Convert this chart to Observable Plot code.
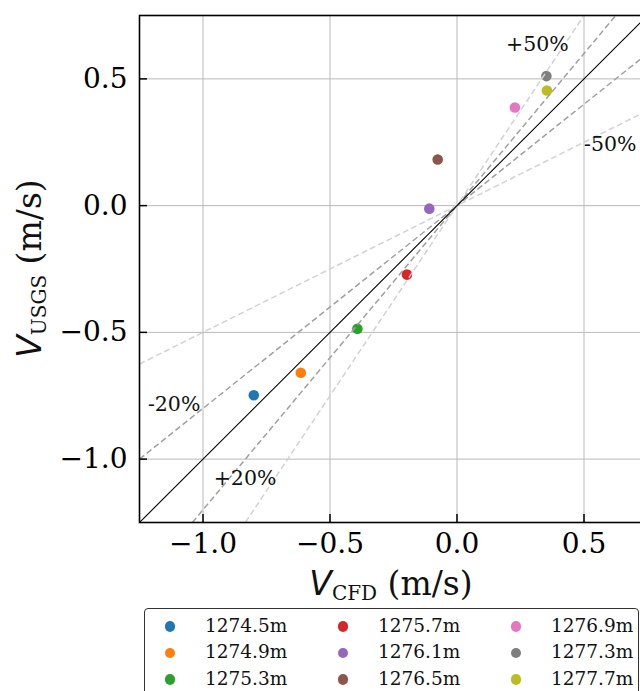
<!DOCTYPE html>
<html><head><meta charset="utf-8">
<script src="https://cdn.jsdelivr.net/npm/d3@7"></script>
<script src="https://cdn.jsdelivr.net/npm/@observablehq/plot@0.6"></script>
<style>
html,body{margin:0;padding:0;background:#fff;overflow:hidden;width:640px;height:691px}
#wrap{position:relative;width:640px;height:691px;overflow:hidden}
#wrap svg{display:block;max-width:none !important;width:647px !important;height:605px !important}
#legend{position:absolute;left:144px;top:608px;width:495px;height:110px;box-sizing:border-box;border:1.5px solid #333;border-radius:4px;background:#fff;font-family:"DejaVu Serif";font-size:18.5px;color:#111}
.dot{position:absolute;width:10.6px;height:10.6px;border-radius:50%}
.lab{position:absolute;line-height:20px;white-space:nowrap}
</style></head><body><div id="wrap"></div>
<script>
// ---- data ----
const depths = ["1274.5m","1274.9m","1275.3m","1275.7m","1276.1m","1276.5m","1276.9m","1277.3m","1277.7m"];
const vCFD  = [-0.800,-0.615,-0.392,-0.197,-0.109,-0.076,0.228,0.352,0.354];
const vUSGS = [-0.748,-0.659,-0.486,-0.272,-0.012,0.182,0.387,0.511,0.454];
const colors = ["#1f77b4","#ff7f0e","#2ca02c","#d62728","#9467bd","#8c564b","#e377c2","#7f7f7f","#bcbd22"];
const refSlopes = [1.2, 0.8, 1.5, 0.5];
const refLabels = ["+20%","-20%","+50%","-50%"];
const refLabelX = [-0.958,-1.217,0.193,0.500];
const refLabelY = [-1.100,-0.811,0.611,0.214];
const refColors = ["#a0a0a0","#a0a0a0","#d2d2d2","#d2d2d2"];
const ticks = [-1.0,-0.5,0.0,0.5];
const domain = [-1.25, 0.75];

// ---- derived tables ----
const points = depths.map((d,i)=>({depth:d, x:vCFD[i], y:vUSGS[i], color:colors[i]}));
function seg(k){
  const x1 = Math.max(domain[0], domain[0]/k), x2 = Math.min(domain[1], domain[1]/k);
  return {x1, y1:k*x1, x2, y2:k*x2};
}
const refs = refSlopes.map((k,i)=>({...seg(k), color:refColors[i]}));
const ident = [seg(1)];
const annots = refLabels.map((t,i)=>({text:t, x:refLabelX[i], y:refLabelY[i]}));
const fmt = d3.format(".1f");

const chart = Plot.plot({
  width: 647, height: 605,
  marginLeft: 139, marginRight: 0, marginTop: 15, marginBottom: 83,
  style: {fontFamily: "DejaVu Serif", background: "white", color: "black", overflow: "visible", maxWidth: "none"},
  x: {domain, label: null},
  y: {domain, label: null},
  marks: [
    Plot.gridX(ticks, {stroke: "#b9b9b9", strokeOpacity: 1, strokeWidth: 1}),
    Plot.gridY(ticks, {stroke: "#b9b9b9", strokeOpacity: 1, strokeWidth: 1}),
    Plot.dot(points, {x: "x", y: "y", r: 5.3, fill: "color"}),
    Plot.link(refs, {x1: "x1", y1: "y1", x2: "x2", y2: "y2", stroke: "color", strokeWidth: 1.5, strokeDasharray: "6,3.2", clip: true}),
    Plot.link(ident, {x1: "x1", y1: "y1", x2: "x2", y2: "y2", stroke: "black", strokeWidth: 1.1, clip: true}),
    Plot.text(annots, {x: "x", y: "y", text: "text", textAnchor: "start", fontSize: 20.5, dy: -6.5, fill: "#111", fontFamily: "DejaVu Serif"}),
    Plot.axisX(ticks, {tickSize: -8, tickPadding: 19, fontSize: 28, strokeWidth: 1.5, color: "black", tickFormat: fmt, label: null}),
    Plot.axisY(ticks, {tickSize: -8, tickPadding: 20, fontSize: 28, strokeWidth: 1.5, color: "black", tickFormat: fmt, label: null}),
    Plot.frame({stroke: "black", strokeWidth: 1.6})
  ]
});

const wrap = document.getElementById("wrap");
wrap.appendChild(chart);

// axis titles with subscripts
const svg = d3.select(chart);
const xs = chart.scale("x").range, ys = chart.scale("y").range;
const cx = (xs[0]+xs[1])/2, cy = (ys[0]+ys[1])/2;
const xl = svg.append("text").attr("x", cx - 2).attr("y", 595).attr("text-anchor","middle").attr("fill","#111");
xl.append("tspan").attr("font-family","DejaVu Sans").attr("font-style","italic").attr("font-size",33).text("V");
xl.append("tspan").attr("font-family","DejaVu Serif").attr("font-size",20).attr("dy",5).text("CFD");
xl.append("tspan").attr("font-family","DejaVu Serif").attr("font-size",33).attr("dy",-5).text(" (m/s)");
const yl = svg.append("text").attr("transform",`translate(41,${cy}) rotate(-90)`).attr("text-anchor","middle").attr("fill","#111");
yl.append("tspan").attr("font-family","DejaVu Sans").attr("font-style","italic").attr("font-size",33).text("V");
yl.append("tspan").attr("font-family","DejaVu Serif").attr("font-size",20).attr("dy",5).text("USGS");
yl.append("tspan").attr("font-family","DejaVu Serif").attr("font-size",33).attr("dy",-5).text(" (m/s)");

// legend (3 columns, column-major)
const leg = document.createElement("div");
leg.id = "legend";
wrap.appendChild(leg);
depths.forEach((d,i)=>{
  const col = Math.floor(i/3), row = i%3;
  const mx = 25 + 173*col, my = 17.5 + 26.5*row;
  const dot = document.createElement("div");
  dot.className = "dot";
  dot.style.left = (mx-5.3)+"px"; dot.style.top = (my-5.3)+"px";
  dot.style.background = colors[i];
  leg.appendChild(dot);
  const t = document.createElement("div");
  t.className = "lab";
  t.style.left = (mx+35)+"px"; t.style.top = (my-11)+"px";
  t.textContent = d;
  leg.appendChild(t);
});
</script></body></html>
